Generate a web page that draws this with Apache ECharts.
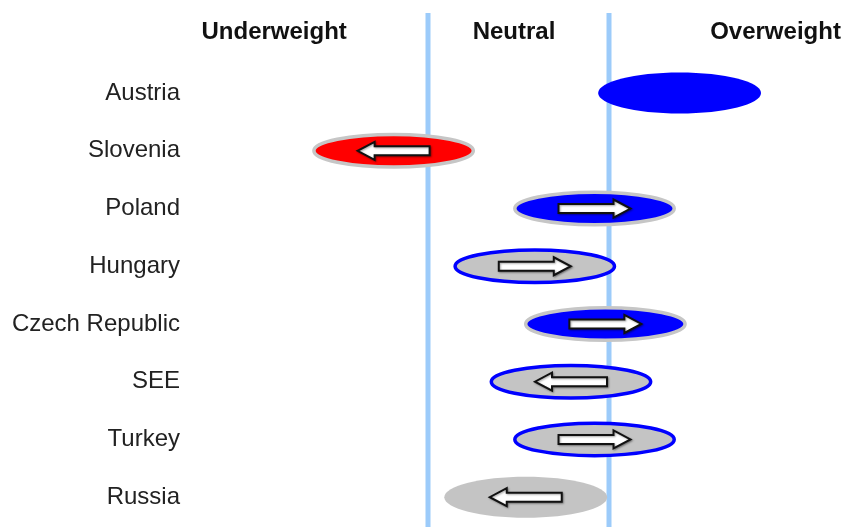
<!DOCTYPE html>
<html>
<head>
<meta charset="utf-8">
<script src="https://cdn.jsdelivr.net/npm/echarts@6/dist/echarts.min.js"></script>
<style>
  html, body { margin: 0; padding: 0; background: #fff; }
  #chart { width: 843px; height: 527px; }
</style>
</head>
<body>
<div id="chart"></div>
<script>
// Country stances on a scale where 0–1 = Underweight, 1–2 = Neutral, 2–3 = Overweight
const countries = ['Austria', 'Slovenia', 'Poland', 'Hungary', 'Czech Republic', 'SEE', 'Turkey', 'Russia'];
const positions = [2.39, 0.81, 1.92, 1.59, 1.98, 1.79, 1.92, 1.54];
// current stance (fill) and previous stance (outline); null = no outline
const stance = ['OW', 'UW', 'OW', 'N', 'OW', 'N', 'N', 'N'];
const previous = [null, 'N', 'N', 'OW', 'N', 'OW', 'OW', null];
// direction of the change arrow: 1 = up, -1 = down, 0 = none
const trend = [0, -1, 1, 1, 1, -1, 1, -1];

const zoneHeaders = ['Underweight', 'Neutral', 'Overweight'];
const headerPositions = [0.15, 1.475, 2.92];
const zoneBounds = [1, 2];

const COLORS = { OW: '#0000FF', UW: '#FF0000', N: '#C4C4C4' };
const EDGE = { OW: '#0000FF', UW: '#FF0000', N: '#C6C6C6' };
const ELLIPSE_SPAN = 0.9;
const FONT = '"Liberation Sans", Arial, sans-serif';

const chart = echarts.init(document.getElementById('chart'), null, { renderer: 'canvas' });

chart.setOption({
  animation: false,
  backgroundColor: '#ffffff',
  grid: { left: 247, right: 53, top: 6.5, bottom: 1, outerBoundsMode: 'none' },
  xAxis: {
    type: 'value', min: 0, max: 3,
    axisLine: { show: false }, axisTick: { show: false },
    axisLabel: { show: false }, splitLine: { show: false }
  },
  yAxis: {
    type: 'category',
    inverse: true,
    data: [''].concat(countries),
    axisLine: { show: false }, axisTick: { show: false }, splitLine: { show: false },
    axisLabel: { fontSize: 24, fontFamily: FONT, color: '#222', margin: 67 }
  },
  series: [
    {
      // zone boundaries
      type: 'custom',
      z: 1,
      data: zoneBounds.map(v => [v, 0]),
      renderItem(params, api) {
        const x = api.coord([api.value(0), 0])[0];
        const cs = params.coordSys;
        return {
          type: 'line',
          shape: { x1: x, y1: cs.y + 6.5, x2: x, y2: cs.y + cs.height + 2 },
          style: { stroke: '#9CCBFA', lineWidth: 5 }
        };
      }
    },
    {
      // stance ellipses with change arrows
      type: 'custom',
      z: 2,
      data: positions.map((v, i) => [v, i + 1]),
      renderItem(params, api) {
        const i = params.dataIndex;
        const c = api.coord([api.value(0), api.value(1)]);
        const w = api.size([ELLIPSE_SPAN, 0])[0];
        const edge = previous[i];
        const lw = edge ? 3.5 : 0;
        const children = [{
          type: 'ellipse',
          shape: { cx: c[0], cy: c[1], rx: w / 2 - lw / 2, ry: (edge ? 18 : 20.5) - lw / 2 },
          style: { fill: COLORS[stance[i]], stroke: edge ? EDGE[edge] : null, lineWidth: lw }
        }];
        const d = trend[i];
        if (d) {
          const pts = [[-36, -4.5], [19, -4.5], [19, -9], [36, 0], [19, 9], [19, 4.5], [-36, 4.5]]
            .map(([x, y]) => [c[0] + d * x, c[1] + y]);
          children.push({
            type: 'polygon',
            shape: { points: pts },
            style: {
              fill: '#ffffff', stroke: '#111', lineWidth: 2, lineJoin: 'miter',
              shadowColor: 'rgba(0,0,0,0.35)', shadowBlur: 2, shadowOffsetX: 1, shadowOffsetY: 1
            }
          });
        }
        return { type: 'group', children };
      }
    },
    {
      // zone headings
      type: 'custom',
      z: 3,
      data: headerPositions.map(v => [v, 0]),
      renderItem(params, api) {
        const c = api.coord([api.value(0), 0]);
        return {
          type: 'text',
          x: c[0], y: c[1] - 3,
          style: {
            text: zoneHeaders[params.dataIndex],
            fontSize: 24, fontWeight: 'bold', fontFamily: FONT,
            fill: '#111', align: 'center', verticalAlign: 'middle'
          }
        };
      }
    }
  ]
});
</script>
</body>
</html>
